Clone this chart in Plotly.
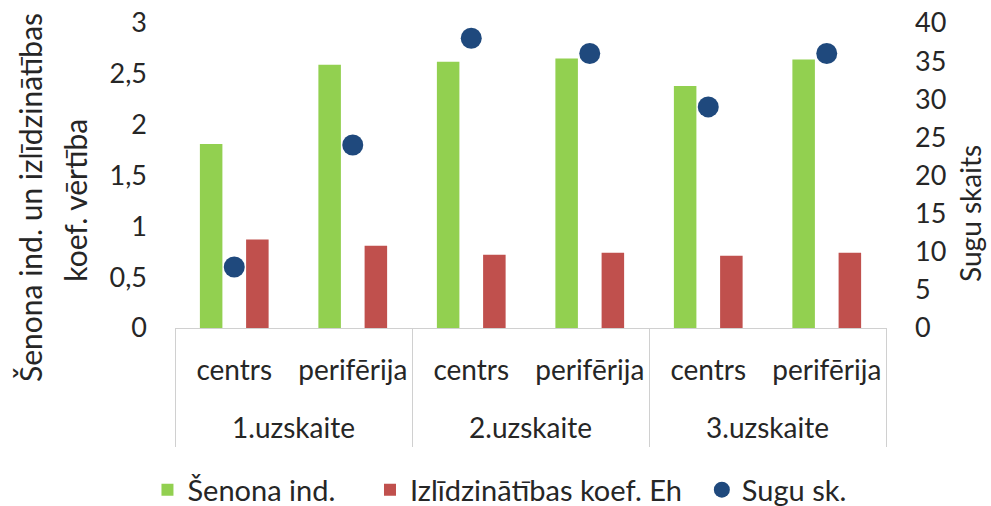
import plotly.graph_objects as go

groups = ["1.uzskaite", "1.uzskaite", "2.uzskaite", "2.uzskaite", "3.uzskaite", "3.uzskaite"]
places = ["centrs", "perifērija", "centrs", "perifērija", "centrs", "perifērija"]
shannon = [1.81, 2.59, 2.62, 2.65, 2.38, 2.64]
evenness = [0.87, 0.81, 0.72, 0.74, 0.71, 0.74]
species = [8, 24, 38, 36, 29, 36]
legend_names = ["Šenona ind.", "Izlīdzinātības koef. Eh", "Sugu sk."]

FONT = "Lato"
TXT = "#262626"
GREEN = "#92D050"
RED = "#C0504D"
BLUE = "#1F497D"
LINE = "#D0D0D0"

# unique category keys, shown with the place names as tick labels
keys = [f"{g} | {p}" for g, p in zip(groups, places)]
n = len(keys)
# group label centres and group boundaries on the category scale
group_names = list(dict.fromkeys(groups))
group_centres = [sum(i for i, g in enumerate(groups) if g == name) /
                 groups.count(name) for name in group_names]
boundaries = [-0.5] + [i + 0.5 for i in range(n - 1) if groups[i] != groups[i + 1]] + [n - 0.5]

fig = go.Figure()
fig.add_trace(go.Bar(x=keys, y=shannon, name=legend_names[0] + "\u00a0\u00a0\u00a0\u00a0",
                     marker=dict(color=GREEN, line=dict(width=0)),
                     width=0.19, offset=-0.29))
fig.add_trace(go.Bar(x=keys, y=evenness, name=legend_names[1] + "\u00a0\u00a0",
                     marker=dict(color=RED, line=dict(width=0)),
                     width=0.19, offset=0.10))
fig.add_trace(go.Scatter(x=keys, y=species, name=legend_names[2], mode="markers",
                         marker=dict(color=BLUE, size=21, symbol="circle"),
                         yaxis="y2"))
# carrier for the group-label axis (draws nothing)
fig.add_trace(go.Scatter(x=group_centres, y=[None] * len(group_centres), xaxis="x2",
                         yaxis="y", mode="markers", showlegend=False, hoverinfo="skip"))

ydom = [119 / 424, 1]

fig.update_layout(
    width=991, height=506,
    margin=dict(l=175, r=105, t=23, b=59),
    paper_bgcolor="white", plot_bgcolor="white",
    font=dict(family=FONT, size=28, color=TXT),
    separators=", ",
    barmode="overlay",
    showlegend=True,
    legend=dict(orientation="h", xref="container", yref="container",
                x=0.504, xanchor="center", y=0.032, yanchor="middle",
                font=dict(size=29, family=FONT, color=TXT), itemwidth=30,
                traceorder="normal"),
    xaxis=dict(type="category", range=[-0.5, n - 0.5], tickmode="array",
               tickvals=keys, ticktext=places,
               showline=True, linecolor=LINE, linewidth=1,
               showgrid=False, ticks="", automargin=False, ticklabelstandoff=17,
               tickfont=dict(size=28, family=FONT, color=TXT)),
    xaxis2=dict(type="linear", overlaying="x", anchor="free", position=0, side="bottom",
                range=[-0.5, n - 0.5], tickmode="array", tickvals=group_centres,
                ticktext=group_names, showline=False, showgrid=False, zeroline=False,
                ticks="", ticklabelposition="inside", automargin=False,
                minor=dict(tickmode="array", tickvals=boundaries, ticks="inside",
                           ticklen=119, tickcolor=LINE, tickwidth=1, showgrid=False),
                tickfont=dict(size=28, family=FONT, color=TXT)),
    yaxis=dict(domain=ydom, range=[0, 3], dtick=0.5, showgrid=False, showline=False,
               zeroline=False, ticks="", tickformat=".1~f", ticklabelstandoff=27,
               automargin=False, tickfont=dict(size=27, family=FONT, color=TXT)),
    yaxis2=dict(domain=ydom, range=[0, 40], dtick=5, overlaying="y", side="right",
                showgrid=False, showline=False, zeroline=False, ticks="",
                ticklabelstandoff=28, automargin=False,
                tickfont=dict(size=27, family=FONT, color=TXT)),
    annotations=[
        dict(text="Šenona ind. un izlīdzinātības", textangle=-90,
             xref="paper", yref="paper", x=-0.204, y=1 - (197 - 23) / 424,
             xanchor="center", yanchor="middle",
             showarrow=False, font=dict(size=30, family=FONT, color=TXT)),
        dict(text="koef. vērtība", textangle=-90,
             xref="paper", yref="paper", x=-0.141, y=1 - (200 - 23) / 424,
             xanchor="center", yanchor="middle",
             showarrow=False, font=dict(size=30, family=FONT, color=TXT)),
        dict(text="Sugu skaits", textangle=-90,
             xref="paper", yref="paper", x=1.118, y=1 - (213 - 23) / 424,
             xanchor="center", yanchor="middle",
             showarrow=False, font=dict(size=28, family=FONT, color=TXT)),
    ],
)

fig.write_html("out.html", config={"displayModeBar": False},
               post_script="document.body.style.margin='0';")
